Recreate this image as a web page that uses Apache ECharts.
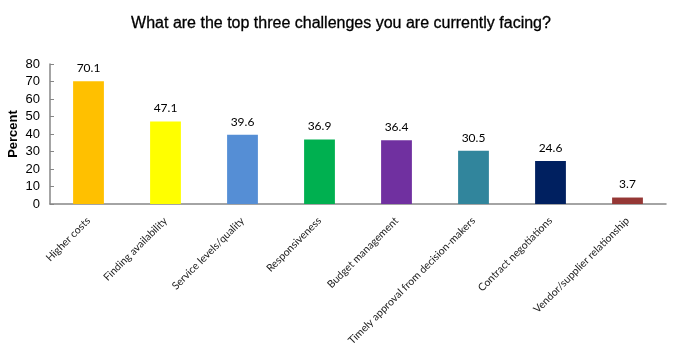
<!DOCTYPE html>
<html><head><meta charset="utf-8">
<script src="https://cdn.jsdelivr.net/npm/echarts@6/dist/echarts.min.js"></script>
<style>html,body{margin:0;padding:0;background:#fff}#c{width:679px;height:359px}</style>
</head><body><div id="c"></div>
<script>
const categories = ["Higher costs","Finding availability","Service levels/quality","Responsiveness","Budget management","Timely approval from decision-makers","Contract negotiations","Vendor/supplier relationship"];
const values = [70.1, 47.1, 39.6, 36.9, 36.4, 30.5, 24.6, 3.7];
const colors = ["#FFC000","#FFFF00","#558ED5","#00B050","#7030A0","#31859C","#002060","#953735"];
const yTicks = [0,10,20,30,40,50,60,70,80];

const chart = echarts.init(document.getElementById('c'));
chart.setOption({
  animation: false,
  title: { text: "What are the top three challenges you are currently facing?", left: 336, top: 11, textAlign: 'center',
    textStyle: { fontFamily: 'Liberation Sans, Arial', fontSize: 16, fontWeight: 'normal', color: '#000',
      textBorderColor: '#000', textBorderWidth: 0.3 } },
  grid: { left: 50, right: 13, top: 64, bottom: 155, containLabel: false, outerBoundsMode: 'none' },
  xAxis: { type: 'category', data: categories,
    axisLine: { lineStyle: { color: '#868686', width: 1.5 } },
    axisTick: { inside: true, length: 4, lineStyle: { color: '#868686' } },
    axisLabel: { rotate: 45, interval: 0, margin: 15, fontFamily: 'Lato, Open Sans', fontSize: 10.5, color: '#222' } },
  yAxis: { type: 'value', min: 0, max: 80, interval: 10,
    name: 'Percent', nameLocation: 'middle', nameGap: 30, nameRotate: 90, nameMoveOverlap: false,
    nameTextStyle: { fontFamily: 'Liberation Sans, Arial', fontSize: 13, fontWeight: 'bold', color: '#000' },
    axisLine: { show: true, lineStyle: { color: '#868686', width: 1.5 } },
    axisTick: { show: true, inside: true, length: 4, lineStyle: { color: '#868686' } },
    splitLine: { show: false },
    axisLabel: { fontFamily: 'Liberation Sans, Arial', fontSize: 13, color: '#000', margin: 10,
      formatter: v => yTicks.includes(v) ? String(v) : '' } },
  series: [{ type: 'bar', barWidth: '40%',
    data: values.map((v,i) => ({ value: v, itemStyle: { color: colors[i] } })),
    label: { show: true, position: 'top', distance: 7, fontFamily: 'Lato, Open Sans', fontSize: 12, color: '#000',
      formatter: p => p.value.toFixed(1) } }]
});
</script></body></html>
